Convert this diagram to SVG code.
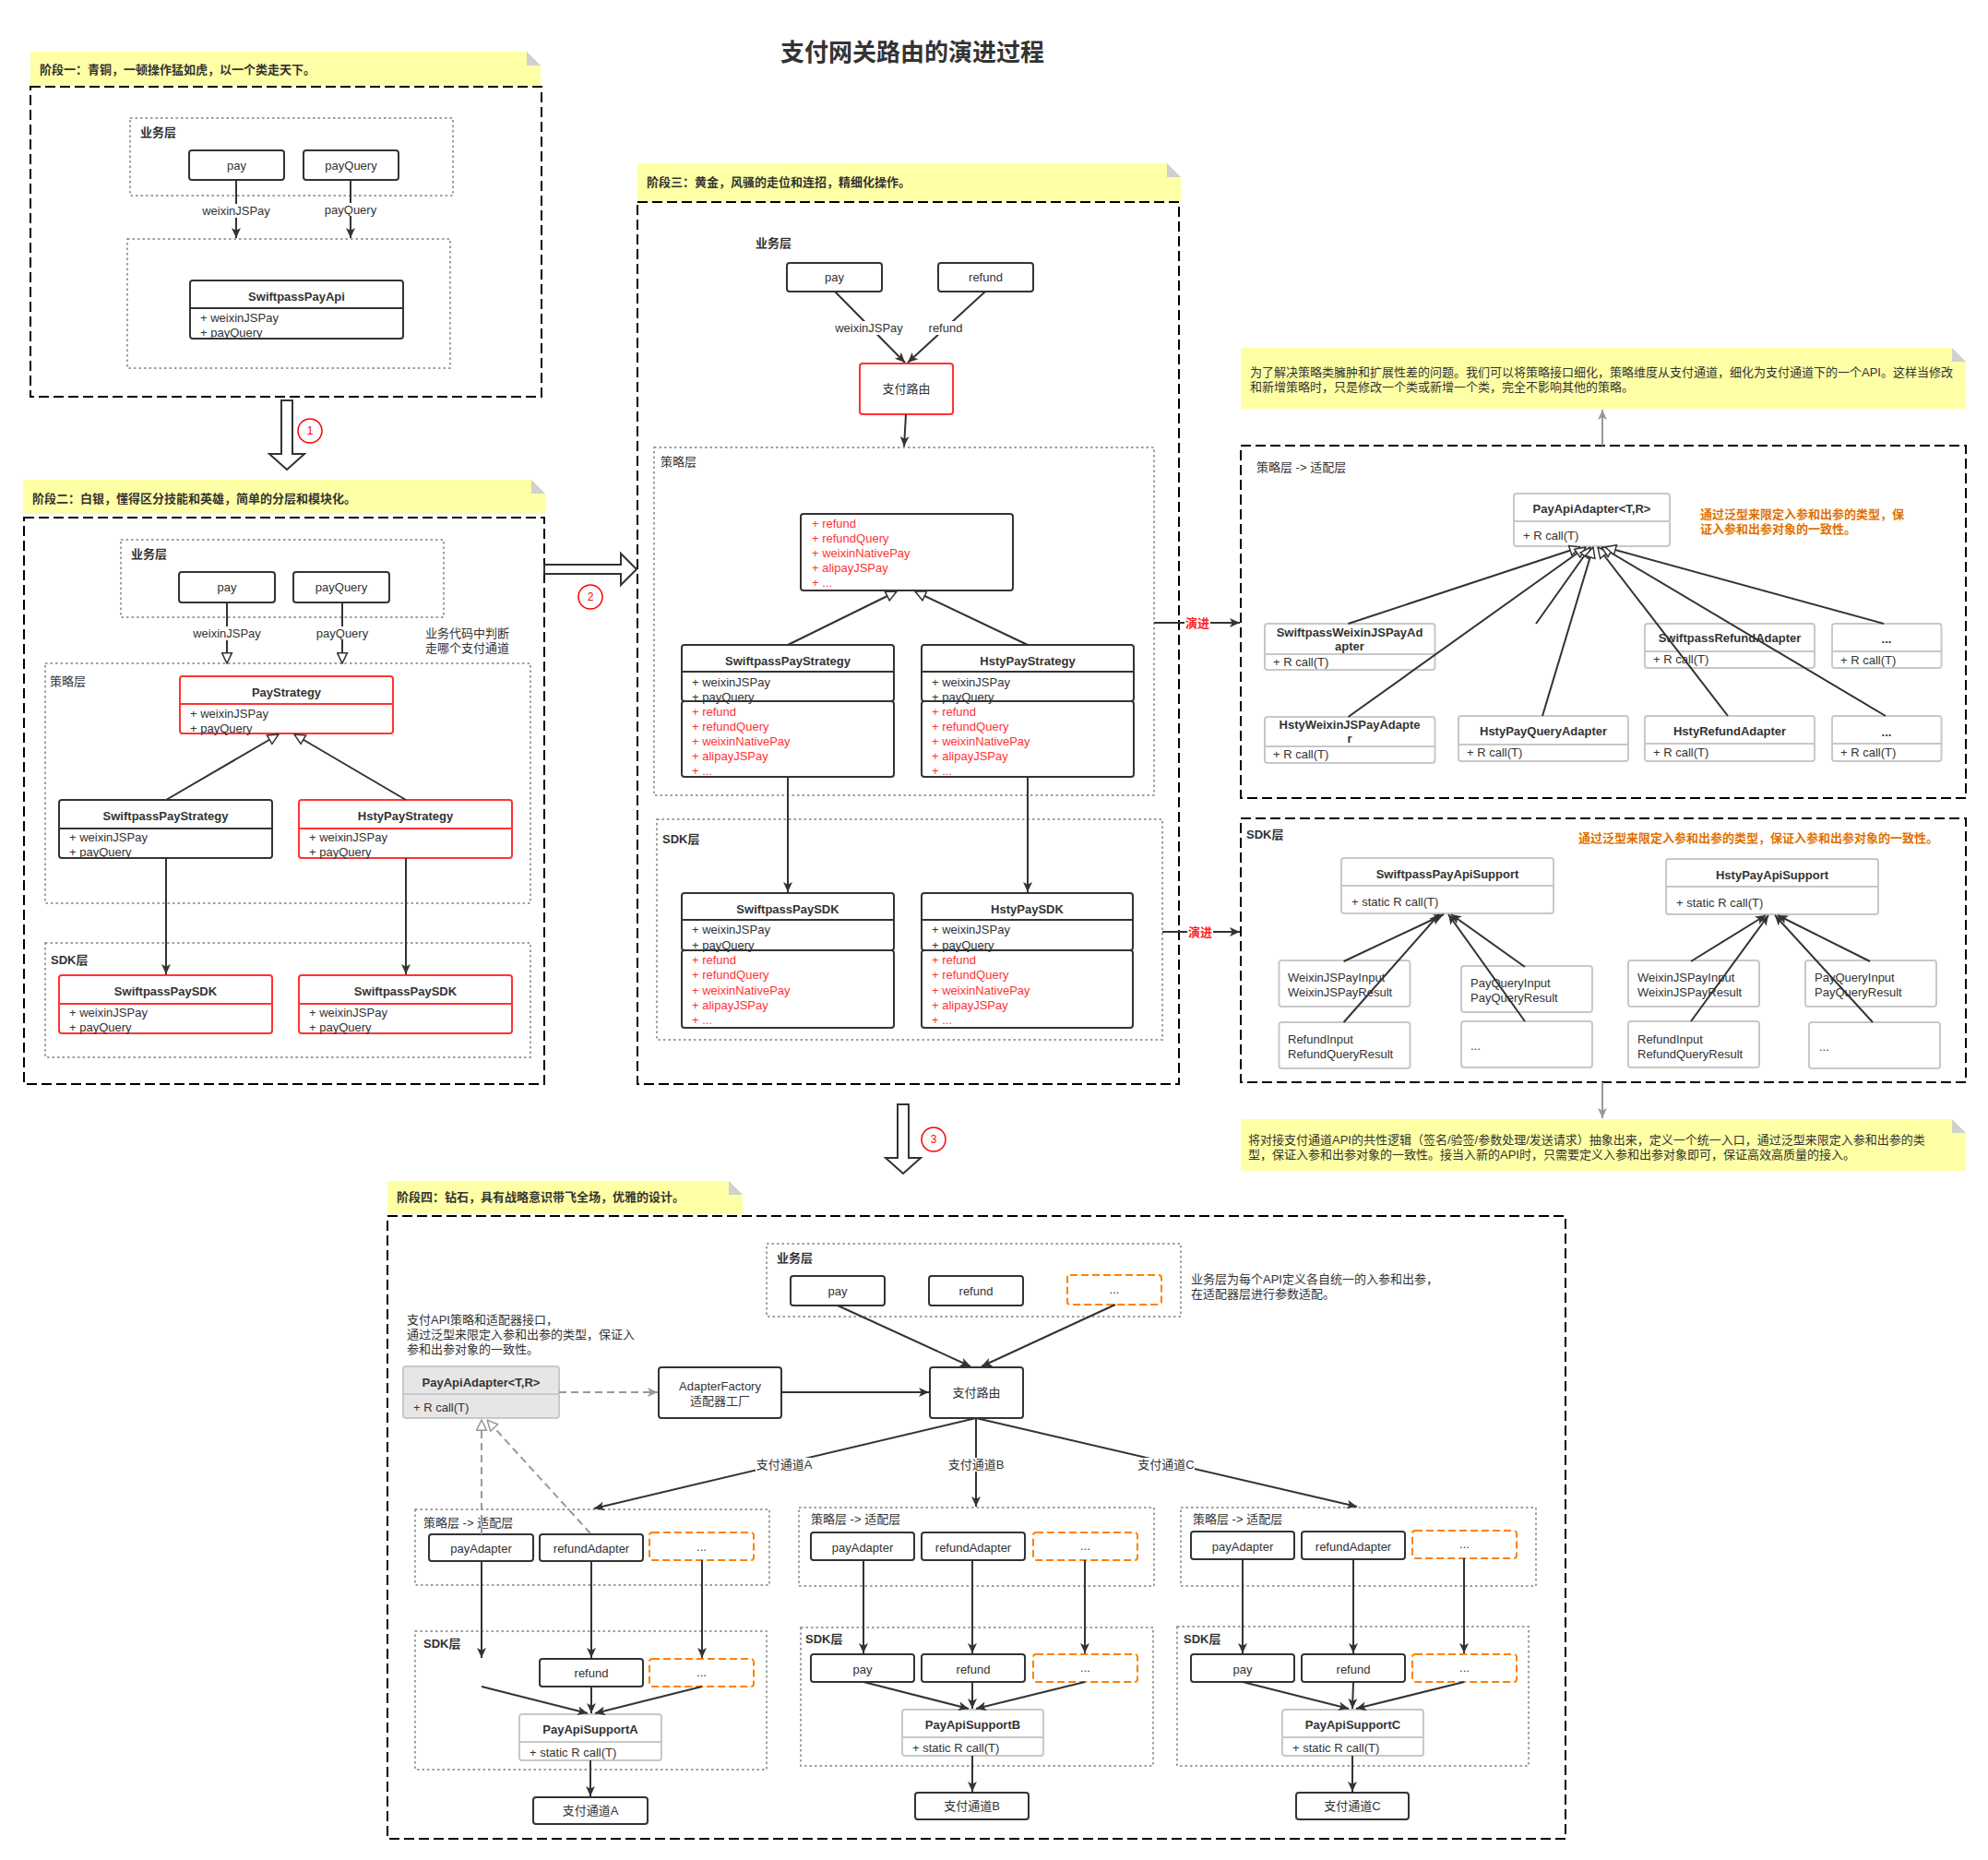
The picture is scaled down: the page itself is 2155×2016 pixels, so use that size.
<svg xmlns="http://www.w3.org/2000/svg" width="2155" height="2016" viewBox="0 0 2155 2016">
<defs>
<style>
text{font-family:"Liberation Sans","Noto Sans CJK SC",sans-serif;font-size:13px;fill:#333}
.b{font-weight:bold}
.m{text-anchor:middle}
.r{fill:#ff3333}
.o{fill:#e07000;font-weight:bold}
.red{fill:#ff2020;font-weight:bold}
.box{fill:#fff;stroke:#333;stroke-width:2}
.rb{fill:#fff;stroke:#ff3333;stroke-width:2}
.gb{fill:#fff;stroke:#c8c8c8;stroke-width:2}
.gf{fill:#e6e6e6;stroke:#c8c8c8;stroke-width:2}
.ob{fill:#fff;stroke:#ff8000;stroke-width:2;stroke-dasharray:8 4}
.dot{fill:none;stroke:#808080;stroke-width:1.5;stroke-dasharray:2.5 3}
.dash{fill:none;stroke:#000;stroke-width:2;stroke-dasharray:11 5}
.note{fill:#ffffa6}
.fold{fill:#d0d0d0}
.ln{fill:none;stroke:#333;stroke-width:2}
.lr{fill:none;stroke:#ff3333;stroke-width:2}
.lg{fill:none;stroke:#999;stroke-width:2}
.lc{fill:none;stroke:#c8c8c8;stroke-width:2}
.lgd{fill:none;stroke:#999;stroke-width:2;stroke-dasharray:8 5}
.bg{fill:#fff}
.blk{fill:#fff;stroke:#333;stroke-width:2}
.cir{fill:#fff;stroke:#ff0000;stroke-width:1.5}
.cn{fill:#ff0000;font-size:12px;text-anchor:middle}
</style>
<marker id="a" viewBox="0 0 10 10" refX="10" refY="5" markerWidth="11" markerHeight="11" markerUnits="userSpaceOnUse" orient="auto"><path d="M0,0.5 L10,5 L0,9.5 L2.5,5 Z" fill="#333"/></marker>
<marker id="ag" viewBox="0 0 10 10" refX="10" refY="5" markerWidth="11" markerHeight="11" markerUnits="userSpaceOnUse" orient="auto"><path d="M0,0.5 L10,5 L0,9.5 L2.5,5 Z" fill="#999"/></marker>
<marker id="t" viewBox="0 0 12 12" refX="11.5" refY="6" markerWidth="13" markerHeight="13" markerUnits="userSpaceOnUse" orient="auto"><path d="M1,1 L11.5,6 L1,11 Z" fill="#fff" stroke="#333" stroke-width="1.4"/></marker>
<marker id="tg" viewBox="0 0 12 12" refX="11.5" refY="6" markerWidth="13" markerHeight="13" markerUnits="userSpaceOnUse" orient="auto"><path d="M1,1 L11.5,6 L1,11 Z" fill="#fff" stroke="#999" stroke-width="1.4"/></marker>
</defs>
<rect width="2155" height="2016" fill="#fff"/>

<text id="title" x="989" y="66" class="b m" style="font-size:26px">支付网关路由的演进过程</text>

<!-- ================= Stage 1 ================= -->
<g id="stage1">
<path class="note" d="M33,56 H571 L586,71 V93 H33 Z"/><path class="fold" d="M571,56 L586,71 H571 Z"/>
<text x="43" y="80" class="b">阶段一：青铜，一顿操作猛如虎，以一个类走天下。</text>
<rect class="dash" x="33" y="94" width="554" height="336"/>
</g>
<g id="s1-biz"><rect class="dot" x="141" y="128" width="350" height="84"/><text x="152" y="148" class="b">业务层</text></g>
<g id="s1-pay"><rect class="box" x="205" y="163" width="103" height="32" rx="3"/><text x="256.5" y="184" class="m">pay</text></g>
<g id="s1-payQuery"><rect class="box" x="329" y="163" width="103" height="32" rx="3"/><text x="380.5" y="184" class="m">payQuery</text></g>
<g id="s1-api-layer"><rect class="dot" x="138" y="259" width="350" height="140"/></g>
<g id="s1-SwiftpassPayApi"><rect class="box" x="206" y="304" width="231" height="63" rx="3"/><line class="ln" x1="206" y1="334" x2="437" y2="334"/><text x="321.5" y="326" class="b m">SwiftpassPayApi</text><text x="217" y="349">+ weixinJSPay</text><text x="217" y="365">+ payQuery</text></g>

<!-- ================= Stage 2 ================= -->
<g id="stage2">
<path class="note" d="M25,520 H576 L591,535 V557 H25 Z"/><path class="fold" d="M576,520 L591,535 H576 Z"/>
<text x="35" y="545" class="b">阶段二：白银，懂得区分技能和英雄，简单的分层和模块化。</text>
<rect class="dash" x="26" y="561" width="564" height="614"/>
</g>
<g id="s2-biz"><rect class="dot" x="131" y="585" width="350" height="84"/><text x="142" y="605" class="b">业务层</text></g>
<g id="s2-pay"><rect class="box" x="194" y="620" width="104" height="33" rx="3"/><text x="246" y="641" class="m">pay</text></g>
<g id="s2-payQuery"><rect class="box" x="318" y="620" width="104" height="33" rx="3"/><text x="370" y="641" class="m">payQuery</text></g>
<g id="s2-note"><text x="461" y="691">业务代码中判断</text><text x="461" y="707">走哪个支付通道</text></g>
<g id="s2-strategy-layer"><rect class="dot" x="49" y="719" width="526" height="260"/><text x="54" y="743">策略层</text></g>
<g id="s2-PayStrategy"><rect class="rb" x="195" y="733" width="231" height="62" rx="3"/><line class="lr" x1="195" y1="763" x2="426" y2="763"/><text x="310.5" y="755" class="b m">PayStrategy</text><text x="206" y="778">+ weixinJSPay</text><text x="206" y="794">+ payQuery</text></g>
<g id="s2-SwiftpassPayStrategy"><rect class="box" x="64" y="867" width="231" height="63" rx="3"/><line class="ln" x1="64" y1="898" x2="295" y2="898"/><text x="179.5" y="889" class="b m">SwiftpassPayStrategy</text><text x="75" y="912">+ weixinJSPay</text><text x="75" y="928">+ payQuery</text></g>
<g id="s2-HstyPayStrategy"><rect class="rb" x="324" y="867" width="231" height="63" rx="3"/><line class="lr" x1="324" y1="898" x2="555" y2="898"/><text x="439.5" y="889" class="b m">HstyPayStrategy</text><text x="335" y="912">+ weixinJSPay</text><text x="335" y="928">+ payQuery</text></g>
<g id="s2-sdk-layer"><rect class="dot" x="49" y="1022" width="526" height="124"/><text x="55" y="1045" class="b">SDK层</text></g>
<g id="s2-SwiftpassPaySDK-1"><rect class="rb" x="64" y="1057" width="231" height="63" rx="3"/><line class="lr" x1="64" y1="1088" x2="295" y2="1088"/><text x="179.5" y="1079" class="b m">SwiftpassPaySDK</text><text x="75" y="1102">+ weixinJSPay</text><text x="75" y="1118">+ payQuery</text></g>
<g id="s2-SwiftpassPaySDK-2"><rect class="rb" x="324" y="1057" width="231" height="63" rx="3"/><line class="lr" x1="324" y1="1088" x2="555" y2="1088"/><text x="439.5" y="1079" class="b m">SwiftpassPaySDK</text><text x="335" y="1102">+ weixinJSPay</text><text x="335" y="1118">+ payQuery</text></g>

<!-- ================= Stage 3 ================= -->
<g id="stage3">
<path class="note" d="M691,177 H1265 L1280,192 V218 H691 Z"/><path class="fold" d="M1265,177 L1280,192 H1265 Z"/>
<text x="701" y="202" class="b">阶段三：黄金，风骚的走位和连招，精细化操作。</text>
<rect class="dash" x="691" y="219" width="587" height="956"/>
<text x="819" y="268" class="b">业务层</text>
</g>
<g id="s3-pay"><rect class="box" x="853" y="285" width="103" height="31" rx="3"/><text x="904.5" y="305" class="m">pay</text></g>
<g id="s3-refund"><rect class="box" x="1017" y="285" width="103" height="31" rx="3"/><text x="1068.5" y="305" class="m">refund</text></g>
<g id="s3-router"><rect class="rb" x="932" y="394" width="101" height="55" rx="3"/><text x="982.5" y="426" class="m">支付路由</text></g>
<g id="s3-strategy-layer"><rect class="dot" x="709" y="485" width="542" height="377"/><text x="716" y="505">策略层</text></g>
<g id="s3-interface"><rect class="box" x="868" y="557" width="230" height="83" rx="3"/><text x="880" y="572" class="r">+ refund</text><text x="880" y="588" class="r">+ refundQuery</text><text x="880" y="604" class="r">+ weixinNativePay</text><text x="880" y="620" class="r">+ alipayJSPay</text><text x="880" y="636" class="r">+ ...</text></g>
<g id="s3-SwiftpassPayStrategy"><rect class="box" x="739" y="699" width="230" height="61" rx="3"/><line class="ln" x1="739" y1="728" x2="969" y2="728"/><rect class="box" x="739" y="760" width="230" height="82" rx="3"/><text x="854" y="721" class="b m">SwiftpassPayStrategy</text><text x="750" y="744">+ weixinJSPay</text><text x="750" y="760">+ payQuery</text><text x="750" y="776" class="r">+ refund</text><text x="750" y="792" class="r">+ refundQuery</text><text x="750" y="808" class="r">+ weixinNativePay</text><text x="750" y="824" class="r">+ alipayJSPay</text><text x="750" y="840" class="r">+ ...</text></g>
<g id="s3-HstyPayStrategy"><rect class="box" x="999" y="699" width="230" height="61" rx="3"/><line class="ln" x1="999" y1="728" x2="1229" y2="728"/><rect class="box" x="999" y="760" width="230" height="82" rx="3"/><text x="1114" y="721" class="b m">HstyPayStrategy</text><text x="1010" y="744">+ weixinJSPay</text><text x="1010" y="760">+ payQuery</text><text x="1010" y="776" class="r">+ refund</text><text x="1010" y="792" class="r">+ refundQuery</text><text x="1010" y="808" class="r">+ weixinNativePay</text><text x="1010" y="824" class="r">+ alipayJSPay</text><text x="1010" y="840" class="r">+ ...</text></g>
<g id="s3-sdk-layer"><rect class="dot" x="712" y="888" width="548" height="239"/><text x="718" y="914" class="b">SDK层</text></g>
<g id="s3-SwiftpassPaySDK"><rect class="box" x="739" y="968" width="230" height="62" rx="3"/><line class="ln" x1="739" y1="997" x2="969" y2="997"/><rect class="box" x="739" y="1030" width="230" height="84" rx="3"/><text x="854" y="990" class="b m">SwiftpassPaySDK</text><text x="750" y="1012">+ weixinJSPay</text><text x="750" y="1029">+ payQuery</text><text x="750" y="1045" class="r">+ refund</text><text x="750" y="1061" class="r">+ refundQuery</text><text x="750" y="1078" class="r">+ weixinNativePay</text><text x="750" y="1094" class="r">+ alipayJSPay</text><text x="750" y="1110" class="r">+ ...</text></g>
<g id="s3-HstyPaySDK"><rect class="box" x="999" y="968" width="229" height="62" rx="3"/><line class="ln" x1="999" y1="997" x2="1228" y2="997"/><rect class="box" x="999" y="1030" width="229" height="84" rx="3"/><text x="1113.5" y="990" class="b m">HstyPaySDK</text><text x="1010" y="1012">+ weixinJSPay</text><text x="1010" y="1029">+ payQuery</text><text x="1010" y="1045" class="r">+ refund</text><text x="1010" y="1061" class="r">+ refundQuery</text><text x="1010" y="1078" class="r">+ weixinNativePay</text><text x="1010" y="1094" class="r">+ alipayJSPay</text><text x="1010" y="1110" class="r">+ ...</text></g>

<!-- ================= Right top ================= -->
<g id="rt-note">
<path class="note" d="M1345,377 H2116 L2131,392 V443 H1345 Z"/><path class="fold" d="M2116,377 L2131,392 H2116 Z"/>
<text x="1355" y="408">为了解决策略类臃肿和扩展性差的问题。我们可以将策略接口细化，策略维度从支付通道，细化为支付通道下的一个API。这样当修改</text>
<text x="1355" y="424">和新增策略时，只是修改一个类或新增一个类，完全不影响其他的策略。</text>
</g>
<g id="rt-panel"><rect class="dash" x="1345" y="483" width="786" height="382"/><text x="1362" y="511">策略层 -&gt; 适配层</text>
<text x="1843" y="562" class="o">通过泛型来限定入参和出参的类型，保</text><text x="1843" y="578" class="o">证入参和出参对象的一致性。</text></g>
<g id="rt-PayApiAdapter"><rect class="gb" x="1641" y="535" width="169" height="57" rx="3"/><line class="lc" x1="1641" y1="565" x2="1810" y2="565"/><text x="1725.5" y="556" class="b m">PayApiAdapter&lt;T,R&gt;</text><text x="1651" y="585">+ R call(T)</text></g>
<g id="rt-SwiftpassWeixinJSPayAdapter"><rect class="gb" x="1371" y="676" width="184.5" height="50" rx="3"/><line class="lc" x1="1371" y1="709" x2="1555.5" y2="709"/><text x="1463" y="690" class="b m">SwiftpassWeixinJSPayAd</text><text x="1463" y="705" class="b m">apter</text><text x="1380" y="722">+ R call(T)</text></g>
<g id="rt-SwiftpassRefundAdapter"><rect class="gb" x="1783" y="676" width="184" height="48" rx="3"/><line class="lc" x1="1783" y1="706" x2="1967" y2="706"/><text x="1875" y="696" class="b m">SwiftpassRefundAdapter</text><text x="1792" y="719">+ R call(T)</text></g>
<g id="rt-more1"><rect class="gb" x="1986" y="676" width="118.5" height="48" rx="3"/><line class="lc" x1="1986" y1="706" x2="2104.5" y2="706"/><text x="2045" y="697" class="b m">...</text><text x="1995" y="720">+ R call(T)</text></g>
<g id="rt-HstyWeixinJSPayAdapter"><rect class="gb" x="1371" y="777" width="184.5" height="50" rx="3"/><line class="lc" x1="1371" y1="809" x2="1555.5" y2="809"/><text x="1463" y="790" class="b m">HstyWeixinJSPayAdapte</text><text x="1463" y="805" class="b m">r</text><text x="1380" y="822">+ R call(T)</text></g>
<g id="rt-HstyPayQueryAdapter"><rect class="gb" x="1581" y="776" width="184" height="49" rx="3"/><line class="lc" x1="1581" y1="807" x2="1765" y2="807"/><text x="1673" y="797" class="b m">HstyPayQueryAdapter</text><text x="1590" y="820">+ R call(T)</text></g>
<g id="rt-HstyRefundAdapter"><rect class="gb" x="1783" y="776" width="184" height="49" rx="3"/><line class="lc" x1="1783" y1="806" x2="1967" y2="806"/><text x="1875" y="797" class="b m">HstyRefundAdapter</text><text x="1792" y="820">+ R call(T)</text></g>
<g id="rt-more2"><rect class="gb" x="1986" y="776" width="118.5" height="49" rx="3"/><line class="lc" x1="1986" y1="806" x2="2104.5" y2="806"/><text x="2045" y="798" class="b m">...</text><text x="1995" y="820">+ R call(T)</text></g>

<!-- ================= Right bottom ================= -->
<g id="rb-panel"><rect class="dash" x="1345" y="887" width="786" height="286"/><text x="1351" y="909" class="b">SDK层</text><text x="1711" y="913" class="o">通过泛型来限定入参和出参的类型，保证入参和出参对象的一致性。</text></g>
<g id="rb-SwiftpassPayApiSupport"><rect class="gb" x="1454" y="930" width="230" height="60" rx="3"/><line class="lc" x1="1454" y1="960" x2="1684" y2="960"/><text x="1569" y="952" class="b m">SwiftpassPayApiSupport</text><text x="1465" y="982">+ static R call(T)</text></g>
<g id="rb-HstyPayApiSupport"><rect class="gb" x="1806" y="931" width="230" height="60" rx="3"/><line class="lc" x1="1806" y1="961" x2="2036" y2="961"/><text x="1921" y="953" class="b m">HstyPayApiSupport</text><text x="1817" y="983">+ static R call(T)</text></g>
<g id="rb-L1"><rect class="gb" x="1386.5" y="1041" width="142" height="50" rx="3"/><text x="1396" y="1064">WeixinJSPayInput</text><text x="1396" y="1080">WeixinJSPayResult</text></g>
<g id="rb-L2"><rect class="gb" x="1584" y="1047" width="142" height="50" rx="3"/><text x="1594" y="1070">PayQueryInput</text><text x="1594" y="1086">PayQueryResult</text></g>
<g id="rb-L3"><rect class="gb" x="1386.5" y="1108" width="142" height="50" rx="3"/><text x="1396" y="1131">RefundInput</text><text x="1396" y="1147">RefundQueryResult</text></g>
<g id="rb-L4"><rect class="gb" x="1584" y="1107" width="142" height="50" rx="3"/><text x="1594" y="1138">...</text></g>
<g id="rb-R1"><rect class="gb" x="1765" y="1041" width="142" height="50" rx="3"/><text x="1775" y="1064">WeixinJSPayInput</text><text x="1775" y="1080">WeixinJSPayResult</text></g>
<g id="rb-R2"><rect class="gb" x="1957" y="1041" width="142" height="50" rx="3"/><text x="1967" y="1064">PayQueryInput</text><text x="1967" y="1080">PayQueryResult</text></g>
<g id="rb-R3"><rect class="gb" x="1765" y="1107" width="142" height="50" rx="3"/><text x="1775" y="1131">RefundInput</text><text x="1775" y="1147">RefundQueryResult</text></g>
<g id="rb-R4"><rect class="gb" x="1961" y="1108" width="142" height="50" rx="3"/><text x="1972" y="1139">...</text></g>
<g id="rb-note">
<path class="note" d="M1345,1213 H2116 L2131,1228 V1269 H1345 Z"/><path class="fold" d="M2116,1213 L2131,1228 H2116 Z"/>
<text x="1353" y="1240">将对接支付通道API的共性逻辑（签名/验签/参数处理/发送请求）抽象出来，定义一个统一入口，通过泛型来限定入参和出参的类</text>
<text x="1353" y="1256">型，保证入参和出参对象的一致性。接当入新的API时，只需要定义入参和出参对象即可，保证高效高质量的接入。</text>
</g>

<!-- ================= Stage 4 ================= -->
<g id="stage4">
<path class="note" d="M420,1280 H790 L805,1295 V1316 H420 Z"/><path class="fold" d="M790,1280 L805,1295 H790 Z"/>
<text x="430" y="1302" class="b">阶段四：钻石，具有战略意识带飞全场，优雅的设计。</text>
<rect class="dash" x="420" y="1318" width="1277" height="675"/>
</g>
<g id="s4-biz"><rect class="dot" x="831" y="1348" width="449" height="79"/><text x="842" y="1368" class="b">业务层</text></g>
<g id="s4-pay"><rect class="box" x="857" y="1383" width="102" height="32" rx="3"/><text x="908" y="1404" class="m">pay</text></g>
<g id="s4-refund"><rect class="box" x="1007" y="1383" width="102" height="32" rx="3"/><text x="1058" y="1404" class="m">refund</text></g>
<g id="s4-more"><rect class="ob" x="1157" y="1382" width="102" height="32" rx="3"/><text x="1208" y="1402" class="m">...</text></g>
<g id="s4-biz-note"><text x="1291" y="1391">业务层为每个API定义各自统一的入参和出参，</text><text x="1291" y="1407">在适配器层进行参数适配。</text></g>
<g id="s4-api-note"><text x="441" y="1435">支付API策略和适配器接口，</text><text x="441" y="1451">通过泛型来限定入参和出参的类型，保证入</text><text x="441" y="1467">参和出参对象的一致性。</text></g>
<g id="s4-PayApiAdapter"><rect class="gf" x="437" y="1481" width="169" height="56" rx="3"/><line class="lc" x1="437" y1="1511" x2="606" y2="1511"/><text x="521.5" y="1503" class="b m">PayApiAdapter&lt;T,R&gt;</text><text x="448" y="1530">+ R call(T)</text></g>
<g id="s4-AdapterFactory"><rect class="box" x="714" y="1482" width="133" height="55" rx="3"/><text x="780.5" y="1507" class="m">AdapterFactory</text><text x="780.5" y="1523" class="m">适配器工厂</text></g>
<g id="s4-router"><rect class="box" x="1008" y="1482" width="101" height="55" rx="3"/><text x="1058.5" y="1514" class="m">支付路由</text></g>

<!-- Panel A -->
<g id="a-strategy"><rect class="dot" x="450" y="1636" width="384" height="82"/><text x="459" y="1655">策略层 -&gt; 适配层</text></g>
<g id="a-payAdapter"><rect class="box" x="465" y="1663" width="113" height="29" rx="3"/><text x="521.5" y="1683" class="m">payAdapter</text></g>
<g id="a-refundAdapter"><rect class="box" x="585" y="1663" width="112" height="29" rx="3"/><text x="641" y="1683" class="m">refundAdapter</text></g>
<g id="a-moreAdapter"><rect class="ob" x="704" y="1661" width="113" height="30" rx="3"/><text x="760.5" y="1681" class="m">...</text></g>
<g id="a-sdk"><rect class="dot" x="450" y="1768" width="381" height="150"/><text x="459" y="1786" class="b">SDK层</text></g>
<g id="a-refund"><rect class="box" x="585" y="1798" width="112" height="30" rx="3"/><text x="641" y="1818" class="m">refund</text></g>
<g id="a-more"><rect class="ob" x="704" y="1798" width="113" height="30" rx="3"/><text x="760.5" y="1817" class="m">...</text></g>
<g id="a-support"><rect class="gb" x="563" y="1858" width="154" height="50" rx="3"/><line class="lc" x1="563" y1="1888" x2="717" y2="1888"/><text x="640" y="1879" class="b m">PayApiSupportA</text><text x="574" y="1904">+ static R call(T)</text></g>
<g id="a-channel"><rect class="box" x="578" y="1948" width="124" height="29" rx="3"/><text x="640" y="1967" class="m">支付通道A</text></g>

<!-- Panel B -->
<g id="b-strategy"><rect class="dot" x="866" y="1634" width="385" height="85"/><text x="879" y="1651">策略层 -&gt; 适配层</text></g>
<g id="b-payAdapter"><rect class="box" x="879" y="1661" width="112" height="30" rx="3"/><text x="935" y="1682" class="m">payAdapter</text></g>
<g id="b-refundAdapter"><rect class="box" x="999" y="1661" width="112" height="30" rx="3"/><text x="1055" y="1682" class="m">refundAdapter</text></g>
<g id="b-moreAdapter"><rect class="ob" x="1120" y="1661" width="113" height="30" rx="3"/><text x="1176.5" y="1680" class="m">...</text></g>
<g id="b-sdk"><rect class="dot" x="868" y="1764" width="382" height="150"/><text x="873" y="1781" class="b">SDK层</text></g>
<g id="b-pay"><rect class="box" x="879" y="1793" width="112" height="30" rx="3"/><text x="935" y="1814" class="m">pay</text></g>
<g id="b-refund"><rect class="box" x="999" y="1793" width="112" height="30" rx="3"/><text x="1055" y="1814" class="m">refund</text></g>
<g id="b-more"><rect class="ob" x="1120" y="1793" width="113" height="30" rx="3"/><text x="1176.5" y="1812" class="m">...</text></g>
<g id="b-support"><rect class="gb" x="978" y="1853" width="153" height="50" rx="3"/><line class="lc" x1="978" y1="1883" x2="1131" y2="1883"/><text x="1054.5" y="1874" class="b m">PayApiSupportB</text><text x="989" y="1899">+ static R call(T)</text></g>
<g id="b-channel"><rect class="box" x="992" y="1943" width="123" height="29" rx="3"/><text x="1053.5" y="1962" class="m">支付通道B</text></g>

<!-- Panel C -->
<g id="c-strategy"><rect class="dot" x="1280" y="1634" width="385" height="85"/><text x="1293" y="1651">策略层 -&gt; 适配层</text></g>
<g id="c-payAdapter"><rect class="box" x="1291" y="1660" width="112" height="30" rx="3"/><text x="1347" y="1681" class="m">payAdapter</text></g>
<g id="c-refundAdapter"><rect class="box" x="1411" y="1660" width="112" height="30" rx="3"/><text x="1467" y="1681" class="m">refundAdapter</text></g>
<g id="c-moreAdapter"><rect class="ob" x="1531" y="1659" width="113" height="30" rx="3"/><text x="1587.5" y="1678" class="m">...</text></g>
<g id="c-sdk"><rect class="dot" x="1276" y="1763" width="381" height="151"/><text x="1283" y="1781" class="b">SDK层</text></g>
<g id="c-pay"><rect class="box" x="1291" y="1793" width="112" height="30" rx="3"/><text x="1347" y="1814" class="m">pay</text></g>
<g id="c-refund"><rect class="box" x="1411" y="1793" width="112" height="30" rx="3"/><text x="1467" y="1814" class="m">refund</text></g>
<g id="c-more"><rect class="ob" x="1531" y="1793" width="113" height="30" rx="3"/><text x="1587.5" y="1812" class="m">...</text></g>
<g id="c-support"><rect class="gb" x="1390" y="1853" width="153" height="50" rx="3"/><line class="lc" x1="1390" y1="1883" x2="1543" y2="1883"/><text x="1466.5" y="1874" class="b m">PayApiSupportC</text><text x="1401" y="1899">+ static R call(T)</text></g>
<g id="c-channel"><rect class="box" x="1405" y="1943" width="122" height="29" rx="3"/><text x="1466" y="1962" class="m">支付通道C</text></g>

<!-- ================= Transitions ================= -->
<g id="transitions">
<path class="blk" d="M305,434 H317 V492 H330 L311,509 L292,492 H305 Z"/>
<circle class="cir" cx="336" cy="467" r="13"/><text x="336" y="471" class="cn">1</text>
<path class="blk" d="M590,612 H673 V600 L690,617 L673,634 V622 H590 Z"/>
<circle class="cir" cx="640" cy="647" r="13"/><text x="640" y="651" class="cn">2</text>
<path class="blk" d="M973,1197 H985 V1255 H998 L979,1272 L960,1255 H973 Z"/>
<circle class="cir" cx="1012" cy="1235" r="13"/><text x="1012" y="1239" class="cn">3</text>
</g>

<!-- ================= Connectors ================= -->
<g id="connectors">
<!-- stage 1 -->
<line class="ln" x1="256" y1="195" x2="256" y2="258" marker-end="url(#a)"/>
<line class="ln" x1="380" y1="195" x2="380" y2="258" marker-end="url(#a)"/>
<rect class="bg" x="218" y="221" width="76" height="15"/><text x="256" y="233" class="m">weixinJSPay</text>
<rect class="bg" x="351" y="220" width="58" height="15"/><text x="380" y="232" class="m">payQuery</text>
<!-- stage 2 -->
<line class="ln" x1="246" y1="653" x2="246" y2="719" marker-end="url(#t)"/>
<line class="ln" x1="371" y1="653" x2="371" y2="719" marker-end="url(#t)"/>
<rect class="bg" x="208" y="679" width="76" height="15"/><text x="246" y="691" class="m">weixinJSPay</text>
<rect class="bg" x="342" y="679" width="58" height="15"/><text x="371" y="691" class="m">payQuery</text>
<line class="ln" x1="180" y1="867" x2="302" y2="796" marker-end="url(#t)"/>
<line class="ln" x1="440" y1="867" x2="319" y2="796" marker-end="url(#t)"/>
<line class="ln" x1="180" y1="930" x2="180" y2="1056" marker-end="url(#a)"/>
<line class="ln" x1="440" y1="930" x2="440" y2="1056" marker-end="url(#a)"/>
<!-- stage 3 -->
<line class="ln" x1="905" y1="316" x2="981" y2="393" marker-end="url(#a)"/>
<line class="ln" x1="1068" y1="316" x2="984" y2="393" marker-end="url(#a)"/>
<rect class="bg" x="904" y="348" width="76" height="15"/><text x="942" y="360" class="m">weixinJSPay</text>
<rect class="bg" x="1005" y="348" width="40" height="15"/><text x="1025" y="360" class="m">refund</text>
<line class="ln" x1="982" y1="449" x2="980" y2="484" marker-end="url(#a)"/>
<line class="ln" x1="854" y1="699" x2="972" y2="641" marker-end="url(#t)"/>
<line class="ln" x1="1114" y1="699" x2="992" y2="641" marker-end="url(#t)"/>
<line class="ln" x1="854" y1="842" x2="854" y2="967" marker-end="url(#a)"/>
<line class="ln" x1="1114" y1="842" x2="1114" y2="967" marker-end="url(#a)"/>
<line class="ln" x1="1251" y1="675" x2="1344" y2="675" marker-end="url(#a)"/>
<rect class="bg" x="1284" y="668" width="28" height="15"/><text x="1298" y="680" class="red m">演进</text>
<line class="ln" x1="1260" y1="1010" x2="1344" y2="1010" marker-end="url(#a)"/>
<rect class="bg" x="1287" y="1003" width="28" height="15"/><text x="1301" y="1015" class="red m">演进</text>
<!-- right top -->
<line class="lg" x1="1737" y1="483" x2="1737" y2="444" marker-end="url(#ag)"/>
<line class="ln" x1="1461.5" y1="676" x2="1713" y2="593" marker-end="url(#t)"/>
<line class="ln" x1="1461.5" y1="777" x2="1719" y2="593" marker-end="url(#t)"/>
<line class="ln" x1="1665" y1="676" x2="1724" y2="593" marker-end="url(#t)"/>
<line class="ln" x1="1672" y1="776" x2="1727" y2="593" marker-end="url(#t)"/>
<line class="ln" x1="1873" y1="776" x2="1732" y2="593" marker-end="url(#t)"/>
<line class="ln" x1="2044" y1="776" x2="1736" y2="593" marker-end="url(#t)"/>
<line class="ln" x1="2042" y1="676" x2="1740" y2="593" marker-end="url(#t)"/>
<!-- right bottom -->
<line class="ln" x1="1456.6" y1="1042" x2="1565" y2="991" marker-end="url(#a)"/>
<line class="ln" x1="1456.6" y1="1108" x2="1560" y2="991" marker-end="url(#a)"/>
<line class="ln" x1="1653" y1="1048" x2="1573" y2="991" marker-end="url(#a)"/>
<line class="ln" x1="1653" y1="1107" x2="1570" y2="991" marker-end="url(#a)"/>
<line class="ln" x1="1833" y1="1042" x2="1914" y2="992" marker-end="url(#a)"/>
<line class="ln" x1="1833" y1="1107" x2="1917" y2="992" marker-end="url(#a)"/>
<line class="ln" x1="2027" y1="1042" x2="1927" y2="992" marker-end="url(#a)"/>
<line class="ln" x1="2030" y1="1108" x2="1924" y2="992" marker-end="url(#a)"/>
<line class="lg" x1="1737" y1="1173" x2="1737" y2="1212" marker-end="url(#ag)"/>
<!-- stage 4 -->
<line class="ln" x1="908" y1="1415" x2="1052" y2="1481" marker-end="url(#a)"/>
<line class="ln" x1="1209" y1="1414" x2="1064" y2="1481" marker-end="url(#a)"/>
<line class="lgd" x1="606" y1="1509" x2="713" y2="1509" marker-end="url(#ag)"/>
<line class="ln" x1="847" y1="1509" x2="1007" y2="1509" marker-end="url(#a)"/>
<line class="ln" x1="1058" y1="1537" x2="644" y2="1635" marker-end="url(#a)"/>
<line class="ln" x1="1058" y1="1537" x2="1058" y2="1633" marker-end="url(#a)"/>
<line class="ln" x1="1058" y1="1537" x2="1471" y2="1633" marker-end="url(#a)"/>
<rect class="bg" x="819" y="1580" width="62" height="15"/><text x="850" y="1592" class="m">支付通道A</text>
<rect class="bg" x="1027" y="1580" width="62" height="15"/><text x="1058" y="1592" class="m">支付通道B</text>
<rect class="bg" x="1233" y="1580" width="62" height="15"/><text x="1264" y="1592" class="m">支付通道C</text>
<line class="lgd" x1="522" y1="1663" x2="522" y2="1539" marker-end="url(#tg)"/>
<line class="lgd" x1="640" y1="1662" x2="528" y2="1539" marker-end="url(#tg)"/>
<!-- panel A -->
<line class="ln" x1="522" y1="1692" x2="522" y2="1797" marker-end="url(#a)"/>
<line class="ln" x1="641" y1="1692" x2="641" y2="1797" marker-end="url(#a)"/>
<line class="ln" x1="761" y1="1691" x2="761" y2="1797" marker-end="url(#a)"/>
<line class="ln" x1="522" y1="1828" x2="637" y2="1857" marker-end="url(#a)"/>
<line class="ln" x1="641" y1="1828" x2="641" y2="1857" marker-end="url(#a)"/>
<line class="ln" x1="761" y1="1828" x2="645" y2="1857" marker-end="url(#a)"/>
<line class="ln" x1="640" y1="1908" x2="640" y2="1947" marker-end="url(#a)"/>
<!-- panel B -->
<line class="ln" x1="936" y1="1691" x2="936" y2="1792" marker-end="url(#a)"/>
<line class="ln" x1="1054" y1="1691" x2="1054" y2="1792" marker-end="url(#a)"/>
<line class="ln" x1="1176" y1="1691" x2="1176" y2="1792" marker-end="url(#a)"/>
<line class="ln" x1="936" y1="1823" x2="1050" y2="1852" marker-end="url(#a)"/>
<line class="ln" x1="1054" y1="1823" x2="1054" y2="1852" marker-end="url(#a)"/>
<line class="ln" x1="1176" y1="1823" x2="1058" y2="1852" marker-end="url(#a)"/>
<line class="ln" x1="1054" y1="1903" x2="1054" y2="1942" marker-end="url(#a)"/>
<!-- panel C -->
<line class="ln" x1="1347" y1="1690" x2="1347" y2="1792" marker-end="url(#a)"/>
<line class="ln" x1="1467" y1="1690" x2="1467" y2="1792" marker-end="url(#a)"/>
<line class="ln" x1="1587" y1="1689" x2="1587" y2="1792" marker-end="url(#a)"/>
<line class="ln" x1="1347" y1="1823" x2="1462" y2="1852" marker-end="url(#a)"/>
<line class="ln" x1="1467" y1="1823" x2="1466" y2="1852" marker-end="url(#a)"/>
<line class="ln" x1="1587" y1="1823" x2="1470" y2="1852" marker-end="url(#a)"/>
<line class="ln" x1="1466" y1="1903" x2="1466" y2="1942" marker-end="url(#a)"/>
</g>
</svg>
